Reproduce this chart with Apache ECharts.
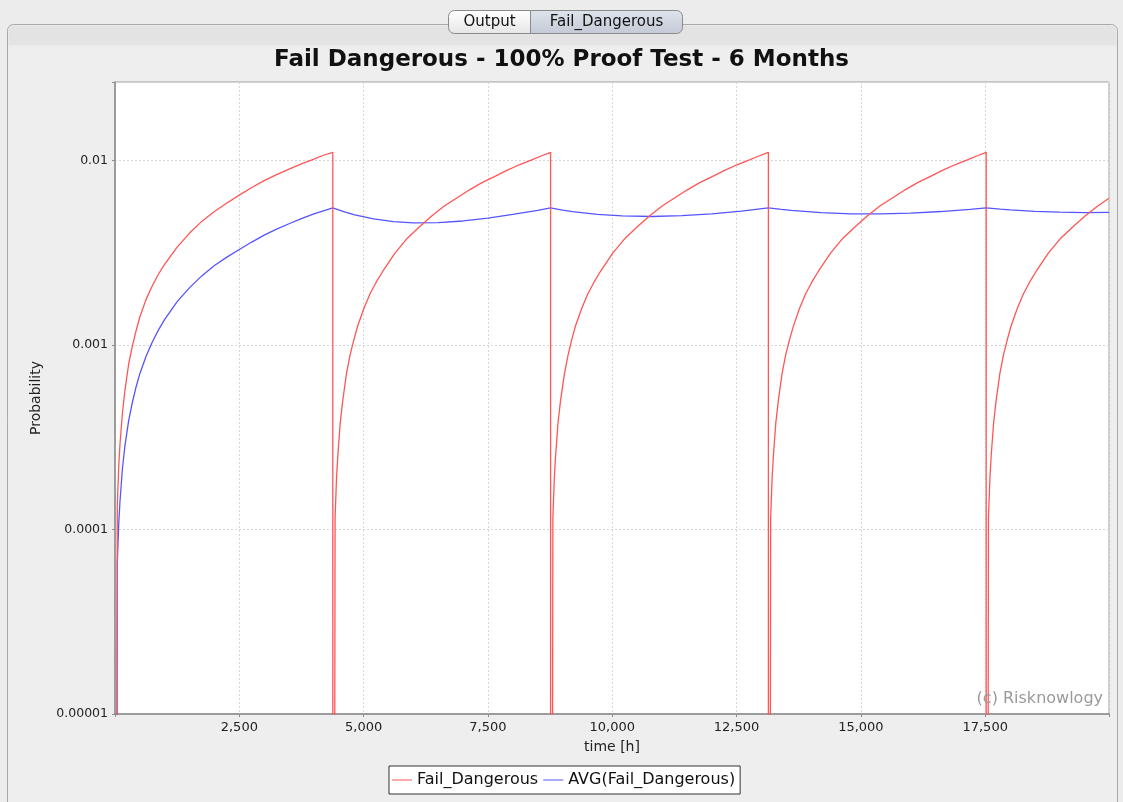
<!DOCTYPE html>
<html>
<head>
<meta charset="utf-8">
<title>Fail Dangerous - 100% Proof Test - 6 Months</title>
<script src="https://cdn.jsdelivr.net/npm/echarts@6/dist/echarts.min.js"></script>
<style>
  html, body { margin: 0; padding: 0; background: #ececec; }
  #chart { width: 1123px; height: 802px; }
</style>
</head>
<body>
<div id="chart"></div>
<script>
// Fail_Dangerous (hours, probability). 1e-12 = drops below the axis at a proof test
const failHours = [
  0, 46, 75, 100, 150, 200, 275, 350, 425, 500, 625, 750, 875, 1000, 1250, 1500, 1750, 2000, 2250, 2500, 2750, 3000, 3250, 3500, 3750, 4000, 4190, 4380,
  4381, 4426, 4455, 4480, 4530, 4580, 4655, 4730, 4805, 4880, 5005, 5130, 5255, 5380, 5630, 5880, 6130, 6380, 6630, 6880, 7130, 7380, 7630, 7880, 8130, 8380, 8570, 8760,
  8761, 8806, 8835, 8860, 8910, 8960, 9035, 9110, 9185, 9260, 9385, 9510, 9635, 9760, 10010, 10260, 10510, 10760, 11010, 11260, 11510, 11760, 12010, 12260, 12510, 12760, 12950, 13140,
  13141, 13186, 13215, 13240, 13290, 13340, 13415, 13490, 13565, 13640, 13765, 13890, 14015, 14140, 14390, 14640, 14890, 15140, 15390, 15640, 15890, 16140, 16390, 16640, 16890, 17140, 17330, 17520,
  17521, 17566, 17595, 17620, 17670, 17720, 17795, 17870, 17945, 18020, 18145, 18270, 18395, 18520, 18770, 19020, 19270, 19520, 19770, 19990
];
const failValues = [
  1e-12, 1.35e-4, 2.2e-4, 2.9e-4, 4.3e-4, 5.7e-4, 7.9e-4, 9.9e-4, 1.2e-3, 1.42e-3, 1.77e-3, 2.1e-3, 2.43e-3, 2.75e-3, 3.4e-3, 4.05e-3, 4.7e-3, 5.3e-3, 5.9e-3, 6.5e-3, 7.15e-3, 7.8e-3, 8.4e-3, 9.0e-3, 9.6e-3, 1.02e-2, 1.07e-2, 1.11e-2,
  1e-12, 1.16e-4, 1.9e-4, 2.5e-4, 3.8e-4, 5.0e-4, 7.0e-4, 8.9e-4, 1.07e-3, 1.27e-3, 1.58e-3, 1.9e-3, 2.2e-3, 2.5e-3, 3.15e-3, 3.8e-3, 4.4e-3, 5.05e-3, 5.7e-3, 6.3e-3, 6.95e-3, 7.6e-3, 8.2e-3, 8.85e-3, 9.5e-3, 1.01e-2, 1.06e-2, 1.11e-2,
  1e-12, 1.15e-4, 1.9e-4, 2.5e-4, 3.8e-4, 5.0e-4, 6.9e-4, 8.8e-4, 1.07e-3, 1.27e-3, 1.58e-3, 1.9e-3, 2.2e-3, 2.5e-3, 3.15e-3, 3.8e-3, 4.4e-3, 5.05e-3, 5.7e-3, 6.3e-3, 6.95e-3, 7.6e-3, 8.2e-3, 8.85e-3, 9.5e-3, 1.01e-2, 1.06e-2, 1.11e-2,
  1e-12, 1.16e-4, 1.9e-4, 2.5e-4, 3.8e-4, 5.0e-4, 7.0e-4, 8.9e-4, 1.07e-3, 1.26e-3, 1.58e-3, 1.9e-3, 2.2e-3, 2.5e-3, 3.15e-3, 3.8e-3, 4.4e-3, 5.05e-3, 5.7e-3, 6.3e-3, 6.95e-3, 7.6e-3, 8.2e-3, 8.85e-3, 9.5e-3, 1.01e-2, 1.06e-2, 1.11e-2,
  1e-12, 1.16e-4, 1.9e-4, 2.5e-4, 3.8e-4, 5.0e-4, 7.0e-4, 8.9e-4, 1.07e-3, 1.27e-3, 1.58e-3, 1.9e-3, 2.2e-3, 2.5e-3, 3.15e-3, 3.8e-3, 4.4e-3, 5.05e-3, 5.7e-3, 6.25e-3
];

// AVG(Fail_Dangerous)
const avgHours = [
  0, 46, 75, 100, 150, 200, 275, 350, 425, 500, 625, 750, 875, 1000, 1250, 1500, 1750, 2000, 2250, 2500, 2750, 3000, 3250, 3500, 3750, 4000, 4190, 4380,
  4600, 4800, 5200, 5600, 6000, 6500, 7000, 7500, 8000, 8500, 8760,
  9000, 9200, 9700, 10200, 10800, 11400, 12000, 12600, 13140,
  13400, 13600, 14200, 14800, 15400, 16000, 16600, 17200, 17520,
  17800, 18000, 18500, 19000, 19500, 19990
];
const avgValues = [
  1e-12, 6.5e-5, 1.08e-4, 1.42e-4, 2.15e-4, 2.85e-4, 3.9e-4, 4.9e-4, 5.95e-4, 7.0e-4, 8.7e-4, 1.04e-3, 1.21e-3, 1.38e-3, 1.72e-3, 2.05e-3, 2.38e-3, 2.7e-3, 3.0e-3, 3.3e-3, 3.62e-3, 3.95e-3, 4.25e-3, 4.55e-3, 4.85e-3, 5.15e-3, 5.35e-3, 5.55e-3,
  5.29e-3, 5.10e-3, 4.83e-3, 4.67e-3, 4.60e-3, 4.61e-3, 4.71e-3, 4.88e-3, 5.11e-3, 5.38e-3, 5.54e-3,
  5.40e-3, 5.30e-3, 5.12e-3, 5.02e-3, 4.98e-3, 5.03e-3, 5.15e-3, 5.33e-3, 5.54e-3,
  5.44e-3, 5.37e-3, 5.23e-3, 5.15e-3, 5.15e-3, 5.20e-3, 5.30e-3, 5.45e-3, 5.54e-3,
  5.46e-3, 5.41e-3, 5.31e-3, 5.26e-3, 5.23e-3, 5.24e-3
];

const xTicks = [2500, 5000, 7500, 10000, 12500, 15000, 17500];
const yTicks = [0.00001, 0.0001, 0.001, 0.01];
const yTickLabels = ['0.00001', '0.0001', '0.001', '0.01'];

const font = 'DejaVu Sans';

const chart = echarts.init(document.getElementById('chart'));

const option = {
  animation: false,
  backgroundColor: '#ececec',
  textStyle: { fontFamily: font },
  graphic: [
    // panel
    { type: 'rect', z: -10, shape: { x: 7.5, y: 24.5, width: 1110, height: 790, r: 6 },
      style: { fill: '#eeeeee', stroke: '#a9a9a9', lineWidth: 1 } },
    { type: 'rect', z: -9, shape: { x: 8.5, y: 25.5, width: 1108, height: 20, r: [5, 5, 0, 0] },
      style: { fill: '#e3e3e3' } },
    // tabs
    { type: 'rect', z: 5, shape: { x: 448.5, y: 10.5, width: 82, height: 23, r: [6, 0, 0, 6] },
      style: { fill: { type: 'linear', x: 0, y: 0, x2: 0, y2: 1,
        colorStops: [{ offset: 0, color: '#ffffff' }, { offset: 1, color: '#e6e6e6' }] },
        stroke: '#8a8a8a', lineWidth: 1 } },
    { type: 'rect', z: 5, shape: { x: 530.5, y: 10.5, width: 152, height: 23, r: [0, 6, 6, 0] },
      style: { fill: { type: 'linear', x: 0, y: 0, x2: 0, y2: 1,
        colorStops: [{ offset: 0, color: '#dfe4ec' }, { offset: 1, color: '#c3cad6' }] },
        stroke: '#8a8a8a', lineWidth: 1 } },
    { type: 'text', z: 6, style: { x: 489.5, y: 22.5, text: 'Output', fill: '#111', font: '15px "DejaVu Sans"',
      align: 'center', verticalAlign: 'middle' } },
    { type: 'text', z: 6, style: { x: 606.5, y: 22.5, text: 'Fail_Dangerous', fill: '#111', font: '15px "DejaVu Sans"',
      align: 'center', verticalAlign: 'middle' } },
    // watermark
    { type: 'text', z: 20, style: { x: 1103, y: 699, text: '(c) Risknowlogy', fill: '#9a9a9a',
      font: '16px "DejaVu Sans"', align: 'right', verticalAlign: 'middle' } }
  ],
  title: {
    text: 'Fail Dangerous - 100% Proof Test - 6 Months',
    left: 'center',
    top: 49,
    padding: 0,
    textStyle: { fontFamily: font, fontSize: 23, fontWeight: 'bold', color: '#111' }
  },
  legend: {
    data: ['Fail_Dangerous', 'AVG(Fail_Dangerous)'],
    left: 389,
    top: 766,
    padding: [6, 5, 6, 3],
    itemGap: 5,
    itemWidth: 20,
    itemHeight: 1,
    icon: 'rect',
    backgroundColor: '#ffffff',
    borderColor: '#333',
    borderWidth: 1,
    borderRadius: 0,
    textStyle: { fontFamily: font, fontSize: 16, color: '#111' }
  },
  grid: {
    left: 115, top: 82, right: 14, bottom: 88,
    show: true, backgroundColor: '#ffffff', borderColor: '#a0a0a0', borderWidth: 1
  },
  xAxis: {
    type: 'value',
    min: 0,
    max: 19990,
    interval: 2500,
    name: 'time [h]',
    nameLocation: 'middle',
    nameGap: 26,
    nameTextStyle: { fontFamily: font, fontSize: 14, color: '#222' },
    axisLine: { lineStyle: { color: '#8c8c8c', width: 1.5 } },
    axisTick: { show: true, length: 3, lineStyle: { color: '#8c8c8c' } },
    axisLabel: {
      margin: 7,
      fontFamily: font, fontSize: 13, color: '#222',
      formatter: v => xTicks.includes(v) ? v.toLocaleString('en-US') : ''
    },
    splitLine: { show: true, lineStyle: { color: '#d6d6d6', type: [2, 2] } }
  },
  yAxis: {
    type: 'log',
    logBase: 10,
    min: 0.00001,
    max: 0.0267,
    name: 'Probability',
    nameLocation: 'middle',
    nameGap: 72,
    nameTextStyle: { fontFamily: font, fontSize: 14, color: '#222' },
    axisLine: { show: true, lineStyle: { color: '#8c8c8c', width: 1.5 } },
    axisTick: { show: true, length: 3, lineStyle: { color: '#8c8c8c' } },
    axisLabel: {
      margin: 7,
      fontFamily: font, fontSize: 12.5, color: '#222',
      formatter: v => {
        const i = yTicks.findIndex(t => Math.abs(t - v) / t < 1e-6);
        return i >= 0 ? yTickLabels[i] : '';
      }
    },
    splitLine: { show: true, lineStyle: { color: '#d6d6d6', type: [2, 2] } }
  },
  series: [
    {
      name: 'AVG(Fail_Dangerous)',
      type: 'line',
      showSymbol: false,
      clip: true,
      color: '#5555ff',
      lineStyle: { color: '#5555ff', width: 1.3 },
      data: avgHours.map((h, i) => [h, avgValues[i]])
    },
    {
      name: 'Fail_Dangerous',
      type: 'line',
      showSymbol: false,
      clip: true,
      color: '#ff5555',
      lineStyle: { color: '#ff5555', width: 1.3 },
      data: failHours.map((h, i) => [h, failValues[i]])
    }
  ]
};

chart.setOption(option);
</script>
</body>
</html>
